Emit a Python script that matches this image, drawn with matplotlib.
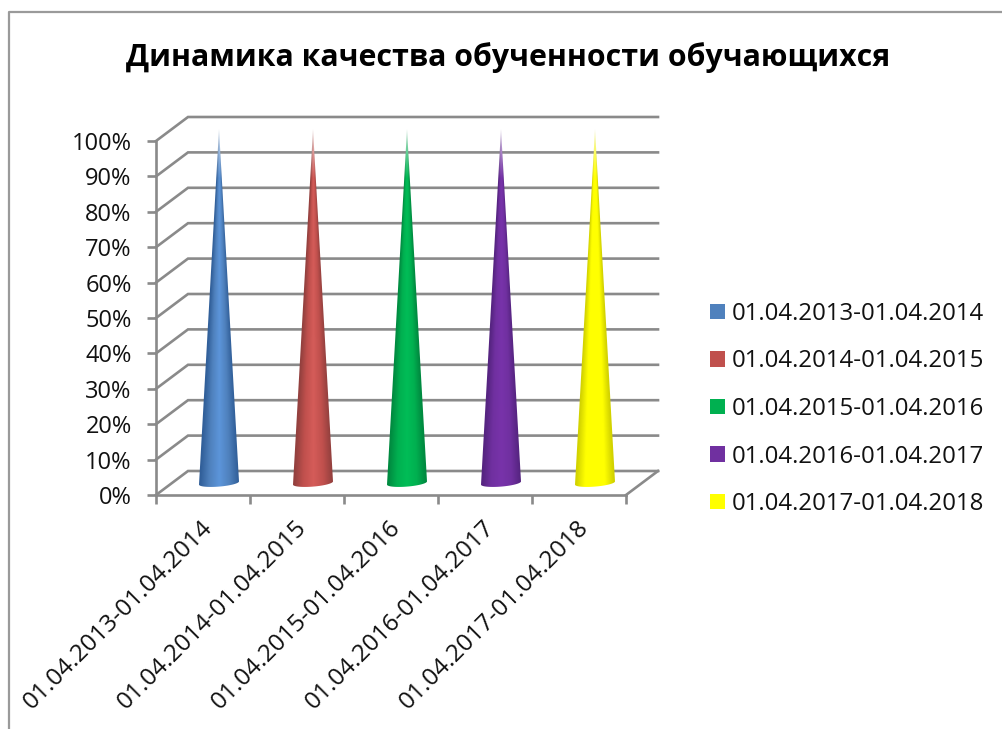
import numpy as np
import matplotlib
matplotlib.use("Agg")
import matplotlib.pyplot as plt
from matplotlib.lines import Line2D
from matplotlib.patches import Patch, Polygon

periods = ['01.04.2013-01.04.2014', '01.04.2014-01.04.2015', '01.04.2015-01.04.2016',
           '01.04.2016-01.04.2017', '01.04.2017-01.04.2018']
values = [100, 100, 100, 100, 100]
y_ticks = [0, 10, 20, 30, 40, 50, 60, 70, 80, 90, 100]
colors = ['#4f81bd', '#c0504d', '#00b050', '#7030a0', '#ffff00']
edge_colors = ['#315f99', '#93403e', '#008a40', '#552480', '#d2d200']
mid_colors = ['#5c95da', '#d55c59', '#00bd57', '#7833aa', '#ffff00']

W, H = 1002, 729
GRID = '#8a8a8a'

plt.rcParams['font.family'] = ['Open Sans', 'DejaVu Sans']

fig = plt.figure(figsize=(W / 100, H / 100), dpi=100)
ax = fig.add_axes([156 / W, 1 - 495 / H, 470 / W, 354 / H])
ax.set_xlim(0, 5)
ax.set_ylim(0, 100)
ax.patch.set_visible(False)

# 3d box offset, pixels turned into data units
px_x = 5 / 470
px_y = 100 / 354
depth_x = 32 * px_x
depth_y = 24 * px_y

for t in y_ticks:
    ax.plot([0, depth_x, 5 + depth_x], [t, t + depth_y, t + depth_y], color=GRID, lw=1.9,
            clip_on=False, zorder=1, solid_joinstyle='miter')
ax.plot([5, 5 + depth_x], [0, depth_y], color=GRID, lw=1.9, clip_on=False, zorder=1)

for s in ['top', 'right']:
    ax.spines[s].set_visible(False)
for s in ['left', 'bottom']:
    ax.spines[s].set_color(GRID)
    ax.spines[s].set_linewidth(1.9)

ax.set_yticks(y_ticks)
ax.set_yticklabels([f'{t}%' for t in y_ticks], fontsize=17, color='#111111')
ax.set_xticks(range(6))
ax.set_xticklabels([])
ax.tick_params(axis='both', color=GRID, width=1.9, length=6.5)
ax.tick_params(axis='y', pad=11)

for i, p in enumerate(periods):
    ax.annotate(p, (i + 0.5, 0), xytext=(-2, -15), textcoords='offset points', rotation=45,
                ha='right', va='top', rotation_mode='anchor', fontsize=17.6, color='#111111',
                xycoords='data', annotation_clip=False)

# cones with a horizontal shading
half_w = 20 * px_x
half_h = 3.6 * px_y
tilt = 1.6 * px_y
for i, v in enumerate(values):
    cx = i + 0.5 + depth_x / 2
    y0 = depth_y / 2
    top = v + depth_y / 2
    t = np.linspace(np.pi, 2 * np.pi, 40)
    rim = np.column_stack([cx + half_w * np.cos(t), y0 + tilt * np.cos(t) + half_h * np.sin(t)])
    outline = np.vstack([rim, [[cx, top]]])

    xs = np.linspace(cx - half_w, cx + half_w, 90)
    ys = np.linspace(-2, top, 400)
    xx, yy = np.meshgrid(xs, ys)
    frac = np.clip((top - yy) / (top - y0), 0.004, None)
    u = np.abs((xx - cx) / (half_w * frac))
    edge = np.array(matplotlib.colors.to_rgb(edge_colors[i]))
    mid = np.array(matplotlib.colors.to_rgb(mid_colors[i]))
    base = np.array(matplotlib.colors.to_rgb(colors[i]))
    rgb = np.stack([np.interp(u, [0, 0.5, 0.95], [mid[c], base[c], edge[c]]) for c in range(3)], axis=-1)
    # fade out towards the tip
    fade = np.clip((top - yy) / 14, 0, 1)[..., None] * 0.75 + 0.25
    rgb = rgb * fade + (1 - fade)
    im = ax.imshow(rgb, origin='lower', aspect='auto', interpolation='bilinear', zorder=3,
                   extent=[xs[0], xs[-1], ys[0], ys[-1]])
    im.set_clip_box(fig.bbox)
    im.set_clip_path(Polygon(outline, closed=True, transform=ax.transData))

ax.set_xlim(0, 5)
ax.set_ylim(0, 100)

handles = [Patch(facecolor=c, edgecolor='none') for c in colors]
fig.legend(handles, periods, loc='center left', bbox_to_anchor=(710 / W, 1 - 409 / H),
           frameon=False, fontsize=17.3, handlelength=0.625, handleheight=0.625, handletextpad=0.29,
           labelspacing=0.98, borderpad=0, borderaxespad=0, labelcolor='#111111')

fig.text(508 / W, 1 - 58 / H, 'Динамика качества обученности обучающихся', ha='center', va='center',
         fontsize=21.75, fontweight='bold', color='black')

# chart area border, only top and left are in the picture
fig.add_artist(Line2D([8.5 / W, 8.5 / W, 1], [0, 1 - 11.5 / H, 1 - 11.5 / H], color='#9a9a9a', lw=1.6))

fig.savefig('out.png', dpi=100, facecolor='white')
